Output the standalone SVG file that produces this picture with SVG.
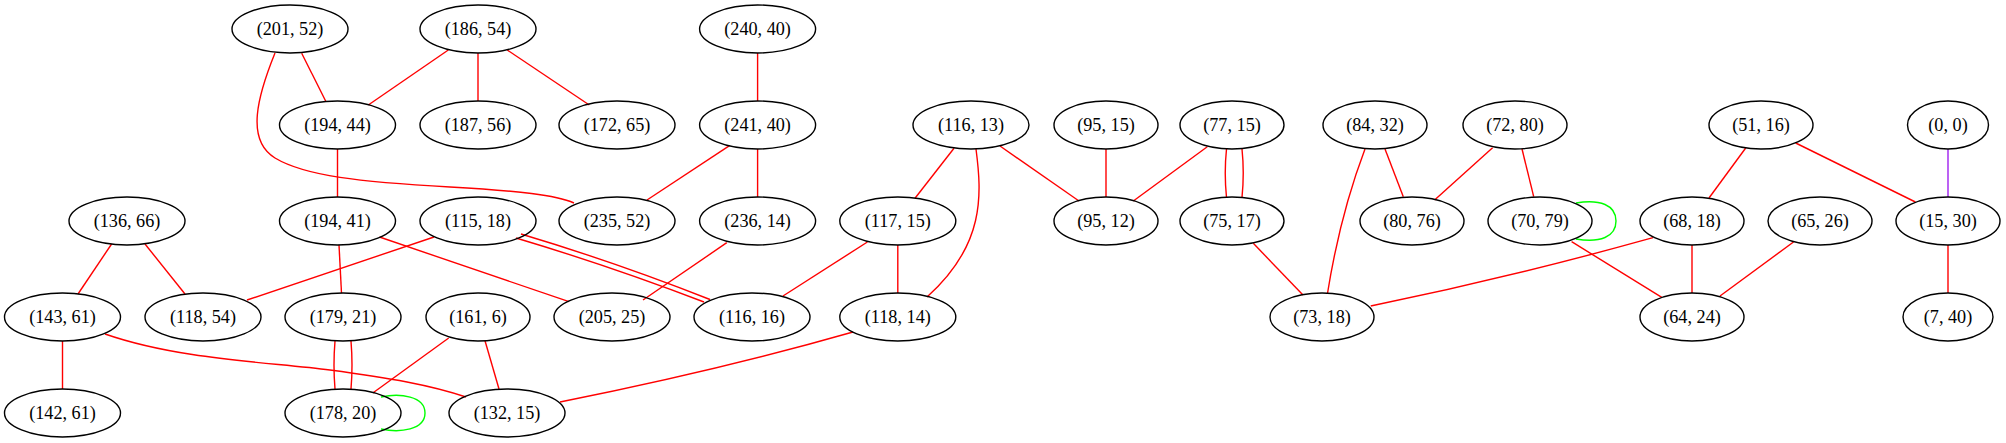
<svg xmlns="http://www.w3.org/2000/svg" width="2006" height="443" viewBox="0 0 2006 443">
<style>
.n ellipse{fill:none;stroke:#000;stroke-width:1.4}
.n text{font-family:"Liberation Serif","Times New Roman",serif;font-size:18.2px;text-anchor:middle;fill:#000}
#edges path{fill:none;stroke:#ff0000;stroke-width:1.4}
#edges path.g{stroke:#00ff00}
#edges path.p{stroke:#a020f0}
</style>
<rect width="2006" height="443" fill="#fff"/>
<g id="edges">
<path d="M301.7,53.3 L326,101.7"/>
<path d="M275,53 C258,95 245,140 275,158 C305,176 360,182 450,187 C520,191 556,195 574,203"/>
<path d="M448.3,50 L368.3,105"/>
<path d="M478,53 L478,101"/>
<path d="M507.3,50 L589.3,105"/>
<path d="M757.6,53 L757.6,101"/>
<path d="M729.5,145.7 L647,200"/>
<path d="M757.6,149 L757.6,197"/>
<path d="M337.5,149 L337.5,197"/>
<path d="M339,245 L341.5,293"/>
<path d="M379.5,237 L569,301.7"/>
<path d="M434,237 L247,300"/>
<path d="M516,238 Q610,266 704,302"/>
<path d="M521,234 Q615,262 710,299.5"/>
<path d="M726.8,242.7 L643,300"/>
<path d="M111.6,244 L78,294"/>
<path d="M145,244 L185,294"/>
<path d="M62.5,341 L62.5,389"/>
<path d="M105,334 C180,360 270,362 330,370 C390,378 430,385 466,397"/>
<path d="M335,341 Q333,365 335,389"/>
<path d="M351,341 Q353,365 351,389"/>
<path d="M448.7,338 L372.8,393"/>
<path d="M485,340.7 L499,389"/>
<path class="g" d="M381,397 C400,393 425,396 425,413 C425,430 400,433 381,429"/>
<path d="M853,332 Q720,370 560,402"/>
<path d="M954,148.3 L915,198.3"/>
<path d="M976,149 C982,195 985,245 927,297"/>
<path d="M1000,146 L1079,201"/>
<path d="M1106,149 L1106,197"/>
<path d="M1207.3,146.7 L1133.3,201"/>
<path d="M1226.5,149 Q1224,173 1226.5,197.5"/>
<path d="M1242,149 Q1244.5,173 1242,197.5"/>
<path d="M1253.3,243.3 L1303,295"/>
<path d="M867.4,242 L783,296"/>
<path d="M897.8,245 L897.8,293.3"/>
<path d="M1365,149 Q1340,215 1327.4,294"/>
<path d="M1385,149 L1403.3,196.7"/>
<path d="M1492.6,147.7 L1434.6,200"/>
<path d="M1522,149 L1533.7,196.7"/>
<path class="g" d="M1576,203 C1600,199 1616,205 1616,221 C1616,237 1600,243 1576,239"/>
<path d="M1571.6,241.7 L1661.8,297.3"/>
<path d="M1653,237.7 Q1512,277 1370.7,306"/>
<path d="M1692,245 L1692,293"/>
<path d="M1793.5,242 L1720,296"/>
<path d="M1745.7,148 L1709,198"/>
<path d="M1795.7,143 L1915.4,202"/>
<path class="p" d="M1948,149 L1948,197"/>
<path d="M1948,245 L1948,293"/>
</g>
<g id="n201_52" class="n"><ellipse cx="290" cy="29" rx="58" ry="24"/><text x="290" y="35">(201, 52)</text></g>
<g id="n186_54" class="n"><ellipse cx="478" cy="29" rx="58" ry="24"/><text x="478" y="35">(186, 54)</text></g>
<g id="n240_40" class="n"><ellipse cx="757.6" cy="29" rx="58" ry="24"/><text x="757.6" y="35">(240, 40)</text></g>
<g id="n194_44" class="n"><ellipse cx="337.5" cy="125" rx="58" ry="24"/><text x="337.5" y="131">(194, 44)</text></g>
<g id="n187_56" class="n"><ellipse cx="478" cy="125" rx="58" ry="24"/><text x="478" y="131">(187, 56)</text></g>
<g id="n172_65" class="n"><ellipse cx="617" cy="125" rx="58" ry="24"/><text x="617" y="131">(172, 65)</text></g>
<g id="n241_40" class="n"><ellipse cx="757.6" cy="125" rx="58" ry="24"/><text x="757.6" y="131">(241, 40)</text></g>
<g id="n116_13" class="n"><ellipse cx="971" cy="125" rx="58" ry="24"/><text x="971" y="131">(116, 13)</text></g>
<g id="n95_15" class="n"><ellipse cx="1106" cy="125" rx="52" ry="24"/><text x="1106" y="131">(95, 15)</text></g>
<g id="n77_15" class="n"><ellipse cx="1232" cy="125" rx="52" ry="24"/><text x="1232" y="131">(77, 15)</text></g>
<g id="n84_32" class="n"><ellipse cx="1375" cy="125" rx="52" ry="24"/><text x="1375" y="131">(84, 32)</text></g>
<g id="n72_80" class="n"><ellipse cx="1515" cy="125" rx="52" ry="24"/><text x="1515" y="131">(72, 80)</text></g>
<g id="n51_16" class="n"><ellipse cx="1761" cy="125" rx="52" ry="24"/><text x="1761" y="131">(51, 16)</text></g>
<g id="n0_0" class="n"><ellipse cx="1948" cy="125" rx="40.5" ry="24"/><text x="1948" y="131">(0, 0)</text></g>
<g id="n136_66" class="n"><ellipse cx="127" cy="221" rx="58" ry="24"/><text x="127" y="227">(136, 66)</text></g>
<g id="n194_41" class="n"><ellipse cx="337.5" cy="221" rx="58" ry="24"/><text x="337.5" y="227">(194, 41)</text></g>
<g id="n115_18" class="n"><ellipse cx="478" cy="221" rx="58" ry="24"/><text x="478" y="227">(115, 18)</text></g>
<g id="n235_52" class="n"><ellipse cx="617" cy="221" rx="58" ry="24"/><text x="617" y="227">(235, 52)</text></g>
<g id="n236_14" class="n"><ellipse cx="757.6" cy="221" rx="58" ry="24"/><text x="757.6" y="227">(236, 14)</text></g>
<g id="n117_15" class="n"><ellipse cx="897.8" cy="221" rx="58" ry="24"/><text x="897.8" y="227">(117, 15)</text></g>
<g id="n95_12" class="n"><ellipse cx="1106" cy="221" rx="52" ry="24"/><text x="1106" y="227">(95, 12)</text></g>
<g id="n75_17" class="n"><ellipse cx="1232" cy="221" rx="52" ry="24"/><text x="1232" y="227">(75, 17)</text></g>
<g id="n80_76" class="n"><ellipse cx="1412" cy="221" rx="52" ry="24"/><text x="1412" y="227">(80, 76)</text></g>
<g id="n70_79" class="n"><ellipse cx="1540" cy="221" rx="52" ry="24"/><text x="1540" y="227">(70, 79)</text></g>
<g id="n68_18" class="n"><ellipse cx="1692" cy="221" rx="52" ry="24"/><text x="1692" y="227">(68, 18)</text></g>
<g id="n65_26" class="n"><ellipse cx="1820" cy="221" rx="52" ry="24"/><text x="1820" y="227">(65, 26)</text></g>
<g id="n15_30" class="n"><ellipse cx="1948" cy="221" rx="52" ry="24"/><text x="1948" y="227">(15, 30)</text></g>
<g id="n143_61" class="n"><ellipse cx="62.5" cy="317" rx="58" ry="24"/><text x="62.5" y="323">(143, 61)</text></g>
<g id="n118_54" class="n"><ellipse cx="203" cy="317" rx="58" ry="24"/><text x="203" y="323">(118, 54)</text></g>
<g id="n179_21" class="n"><ellipse cx="343" cy="317" rx="58" ry="24"/><text x="343" y="323">(179, 21)</text></g>
<g id="n161_6" class="n"><ellipse cx="478" cy="317" rx="52" ry="24"/><text x="478" y="323">(161, 6)</text></g>
<g id="n205_25" class="n"><ellipse cx="612" cy="317" rx="58" ry="24"/><text x="612" y="323">(205, 25)</text></g>
<g id="n116_16" class="n"><ellipse cx="752" cy="317" rx="58" ry="24"/><text x="752" y="323">(116, 16)</text></g>
<g id="n118_14" class="n"><ellipse cx="897.8" cy="317" rx="58" ry="24"/><text x="897.8" y="323">(118, 14)</text></g>
<g id="n73_18" class="n"><ellipse cx="1322" cy="317" rx="52" ry="24"/><text x="1322" y="323">(73, 18)</text></g>
<g id="n64_24" class="n"><ellipse cx="1692" cy="317" rx="52" ry="24"/><text x="1692" y="323">(64, 24)</text></g>
<g id="n7_40" class="n"><ellipse cx="1948" cy="317" rx="45" ry="24"/><text x="1948" y="323">(7, 40)</text></g>
<g id="n142_61" class="n"><ellipse cx="62.5" cy="413" rx="58" ry="24"/><text x="62.5" y="419">(142, 61)</text></g>
<g id="n178_20" class="n"><ellipse cx="343" cy="413" rx="58" ry="24"/><text x="343" y="419">(178, 20)</text></g>
<g id="n132_15" class="n"><ellipse cx="507" cy="413" rx="58" ry="24"/><text x="507" y="419">(132, 15)</text></g>
</svg>
